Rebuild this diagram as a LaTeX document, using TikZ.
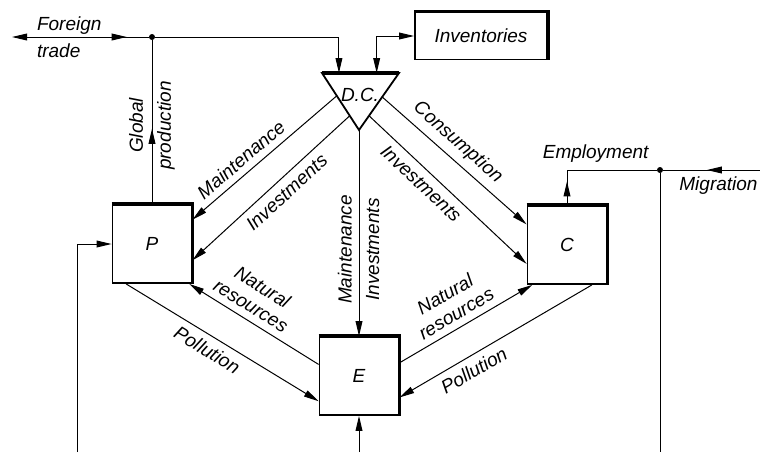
\documentclass[tikz,border=0pt]{standalone}
\usepackage{fontspec}
\setmainfont{Liberation Sans}
\usetikzlibrary{arrows.meta, calc, decorations.markings}

\begin{document}
\begin{tikzpicture}[
    x=0.5pt, y=-0.5pt,
    font=\fontsize{9.5}{11}\selectfont\itshape,
    >={Triangle[length=7.5pt, width=3.4pt]},
    box/.style={rectangle, draw, line width=0.9pt, minimum width=39.5pt, minimum height=39pt, text centered},
    heavy/.style={line width=1.8pt},
    conn/.style={line width=0.5pt},
    flow/.style={->, line width=0.5pt},
    midarrow/.style={postaction={decorate}, decoration={markings, mark=at position #1 with {\arrow{>}}}},
    jdot/.style={circle, fill, inner sep=0pt, minimum size=3pt}
]
\useasboundingbox (0,0) rectangle (760,452);

\node[box] (P) at (152,244) {P};
\node[box] (C) at (567,245) {C};
\node[box] (E) at (359,376) {E};
\node[box, minimum width=66pt, minimum height=23.5pt] (inv) at (481,36) {Inventories};
\foreach \bx in {P,C,E,inv}
    \draw[heavy] (\bx.north west) -- (\bx.north east) -- (\bx.south east);

\coordinate (dcL) at (322,73);
\coordinate (dcR) at (399,73);
\coordinate (dcA) at (359,130);
\draw[line width=0.9pt] (dcA) -- (dcL) -- (dcR) -- cycle;
\draw[heavy] (dcL) -- (dcR);
\node (dc) at (360,95) {D.C.};

\node[jdot] (jn) at (152,37) {};
\node[jdot] (jm) at (660,170) {};
\coordinate (ft) at (12,37);
\coordinate (mig) at (760,170);
\coordinate (bP) at (77,452);
\coordinate (bE) at (359,452);
\coordinate (bC) at (660,452);

\node[align=left, anchor=west] (ftl) at (30,37) {Foreign\\[2.5pt]trade};
\draw[conn, <-, midarrow=0.84] (ft) -- (jn);
\draw[conn, midarrow=0.46] (P.north) -- node[sloped, align=center, pos=0.48] {Global\\[3pt]production} (jn);
\draw[flow] (jn) -| ($(dcL)!0.22!(dcR)$);
\draw[conn, <->] ($(dcL)!0.71!(dcR)$) |- (inv.west);

\draw[flow] ($(dcL)!0.4!(dcA)$) -- node[sloped, above, pos=0.6] {Maintenance} (P.31);
\draw[flow] ($(dcL)!0.75!(dcA)$) -- node[sloped, below, pos=0.46] {Investments} (P.-22);
\draw[conn, <-] (E.north) -- node[sloped, above, pos=0.42] {Maintenance} node[sloped, below, pos=0.42] {Investments} (dcA);
\draw[flow] ($(dcR)!0.42!(dcA)$) -- node[sloped, above, pos=0.45] {Consumption} (C.153);
\draw[flow] ($(dcR)!0.75!(dcA)$) -- node[sloped, below, pos=0.39] {Investments} (C.205);

\draw[flow] (E.164) -- node[sloped, above, align=center, pos=0.58] {Natural\\resources} (P.-47);
\draw[flow] (P.237) -- node[sloped, below, pos=0.46] {Pollution} (E.212);
\draw[flow] (E.18) -- node[sloped, above, align=center, pos=0.48] {Natural\\resources} (C.229);
\draw[flow] (C.-58) -- node[sloped, below, pos=0.65] {Pollution} (E.-28);

\draw[conn, midarrow=0.19] (C.north) |- node[above, pos=0.66] {Employment} (jm);
\draw[conn, midarrow=0.55] (mig) -- node[below, pos=0.43] {Migration} (jm);
\draw[conn] (jm) -- (bC);
\draw[flow] (bP) |- (P.west);
\draw[flow] (bE) -- (E.south);

\end{tikzpicture}
\end{document}
